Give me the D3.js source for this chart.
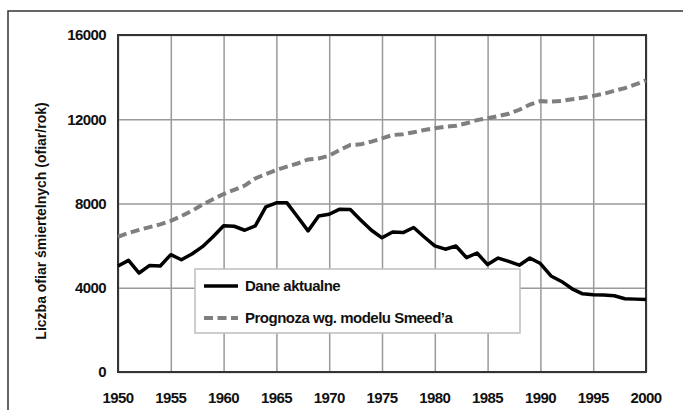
<!DOCTYPE html>
<html>
<head>
<meta charset="utf-8">
<script src="https://cdn.jsdelivr.net/npm/d3@7"></script>
<style>
  html, body { margin: 0; padding: 0; background: #fff; }
  svg { display: block; }
  text { font-family: "Liberation Sans", Arial, sans-serif; font-weight: bold; fill: #111; }
</style>
</head>
<body>
<script>
const years = d3.range(1950, 2001);
const actual = [
  5030, 5300, 4700, 5060, 5030, 5570, 5330, 5600, 5950, 6420,
  6940, 6920, 6730, 6940, 7840, 8030, 8030, 7370, 6700, 7410,
  7490, 7730, 7710, 7210, 6730, 6370, 6650, 6620, 6860, 6410,
  5990, 5830, 5980, 5430, 5650, 5100, 5410, 5250, 5070, 5410,
  5150, 4560, 4300, 3950, 3710, 3670, 3650, 3620, 3480, 3460, 3440
];
const smeed = [
  6420, 6600, 6750, 6880, 7010, 7180, 7400, 7650, 7950, 8200,
  8450, 8650, 8850, 9190, 9400, 9590, 9750, 9900, 10090, 10140,
  10270, 10540, 10780, 10810, 10940, 11090, 11250, 11290, 11380, 11490,
  11570, 11650, 11690, 11810, 11960, 12050, 12150, 12260, 12450, 12700,
  12860, 12840, 12870, 12950, 13020, 13110, 13210, 13350, 13480, 13650, 13850
];
const yTicks = [0, 4000, 8000, 12000, 16000];
const xTicks = d3.range(1950, 2001, 5);
const seriesNames = ["Dane aktualne", "Prognoza wg. modelu Smeed\u2019a"];
const yTitle = "Liczba ofiar \u015bmiertelnych (ofiar/rok)";

const W = 683, H = 410;
const L = 118, R = 646, T = 35, B = 372;

const svg = d3.select("body").append("svg").attr("width", W).attr("height", H);

// outer frame
svg.append("path")
  .attr("d", `M8,${H + 5} L8,11 L${W + 5},11`)
  .attr("fill", "none").attr("stroke", "#333").attr("stroke-width", 1.5);

const x = d3.scaleLinear().domain([1950, 2000]).range([L, R]);
const y = d3.scaleLinear().domain([0, 16000]).range([B, T]);

// grid
const g = svg.append("g");
g.append("g").attr("transform", `translate(0,${B})`)
  .call(d3.axisBottom(x).tickValues(xTicks).tickSize(-(B - T)).tickFormat(""))
  .call(s => s.select(".domain").remove())
  .call(s => s.selectAll("line").attr("stroke", "#9a9a9a").attr("stroke-width", 1.5));
g.append("g").attr("transform", `translate(${L},0)`)
  .call(d3.axisLeft(y).tickValues(yTicks).tickSize(-(R - L)).tickFormat(""))
  .call(s => s.select(".domain").remove())
  .call(s => s.selectAll("line").attr("stroke", "#9a9a9a").attr("stroke-width", 1.5));

// plot border
svg.append("rect").attr("x", L).attr("y", T).attr("width", R - L).attr("height", B - T)
  .attr("fill", "none").attr("stroke", "#333").attr("stroke-width", 2);

// tick labels
svg.append("g").selectAll("text").data(yTicks).join("text")
  .attr("x", 106).attr("y", d => y(d)).attr("dy", "0.36em")
  .attr("text-anchor", "end").attr("font-size", 15).attr("letter-spacing", "-0.6")
  .text(d => d);
svg.append("g").selectAll("text").data(xTicks).join("text")
  .attr("x", d => x(d)).attr("y", 398).attr("dy", "0.36em")
  .attr("text-anchor", "middle").attr("font-size", 15).attr("letter-spacing", "-0.6")
  .text(d => d);

// y title
svg.append("text")
  .attr("transform", "translate(41,221) rotate(-90)")
  .attr("text-anchor", "middle").attr("dy", "0.36em")
  .attr("font-size", 14)
  .text(yTitle);

const line = d3.line().x((d, i) => x(years[i])).y(d => y(d));

svg.append("path").datum(smeed).attr("d", line)
  .attr("fill", "none").attr("stroke", "#7f7f7f").attr("stroke-width", 4)
  .attr("stroke-dasharray", "9,4.5");
svg.append("path").datum(actual).attr("d", line)
  .attr("fill", "none").attr("stroke", "#000").attr("stroke-width", 3.5)
  .attr("stroke-linejoin", "round");

// legend
const lg = svg.append("g");
lg.append("rect").attr("x", 195).attr("y", 269).attr("width", 325).attr("height", 64)
  .attr("fill", "#fff").attr("stroke", "#bdbdbd").attr("stroke-width", 1.5);
const rows = [
  { name: seriesNames[0], y: 286, stroke: "#000", w: 3.5, dash: null },
  { name: seriesNames[1], y: 318, stroke: "#7f7f7f", w: 4, dash: "9,4.5" }
];
rows.forEach(r => {
  lg.append("line").attr("x1", 204).attr("x2", 238).attr("y1", r.y).attr("y2", r.y)
    .attr("stroke", r.stroke).attr("stroke-width", r.w)
    .attr("stroke-dasharray", r.dash);
  lg.append("text").attr("x", 245).attr("y", r.y).attr("dy", "0.36em")
    .attr("font-size", 15).attr("letter-spacing", "-0.5")
    .text(r.name);
});
</script>
</body>
</html>
